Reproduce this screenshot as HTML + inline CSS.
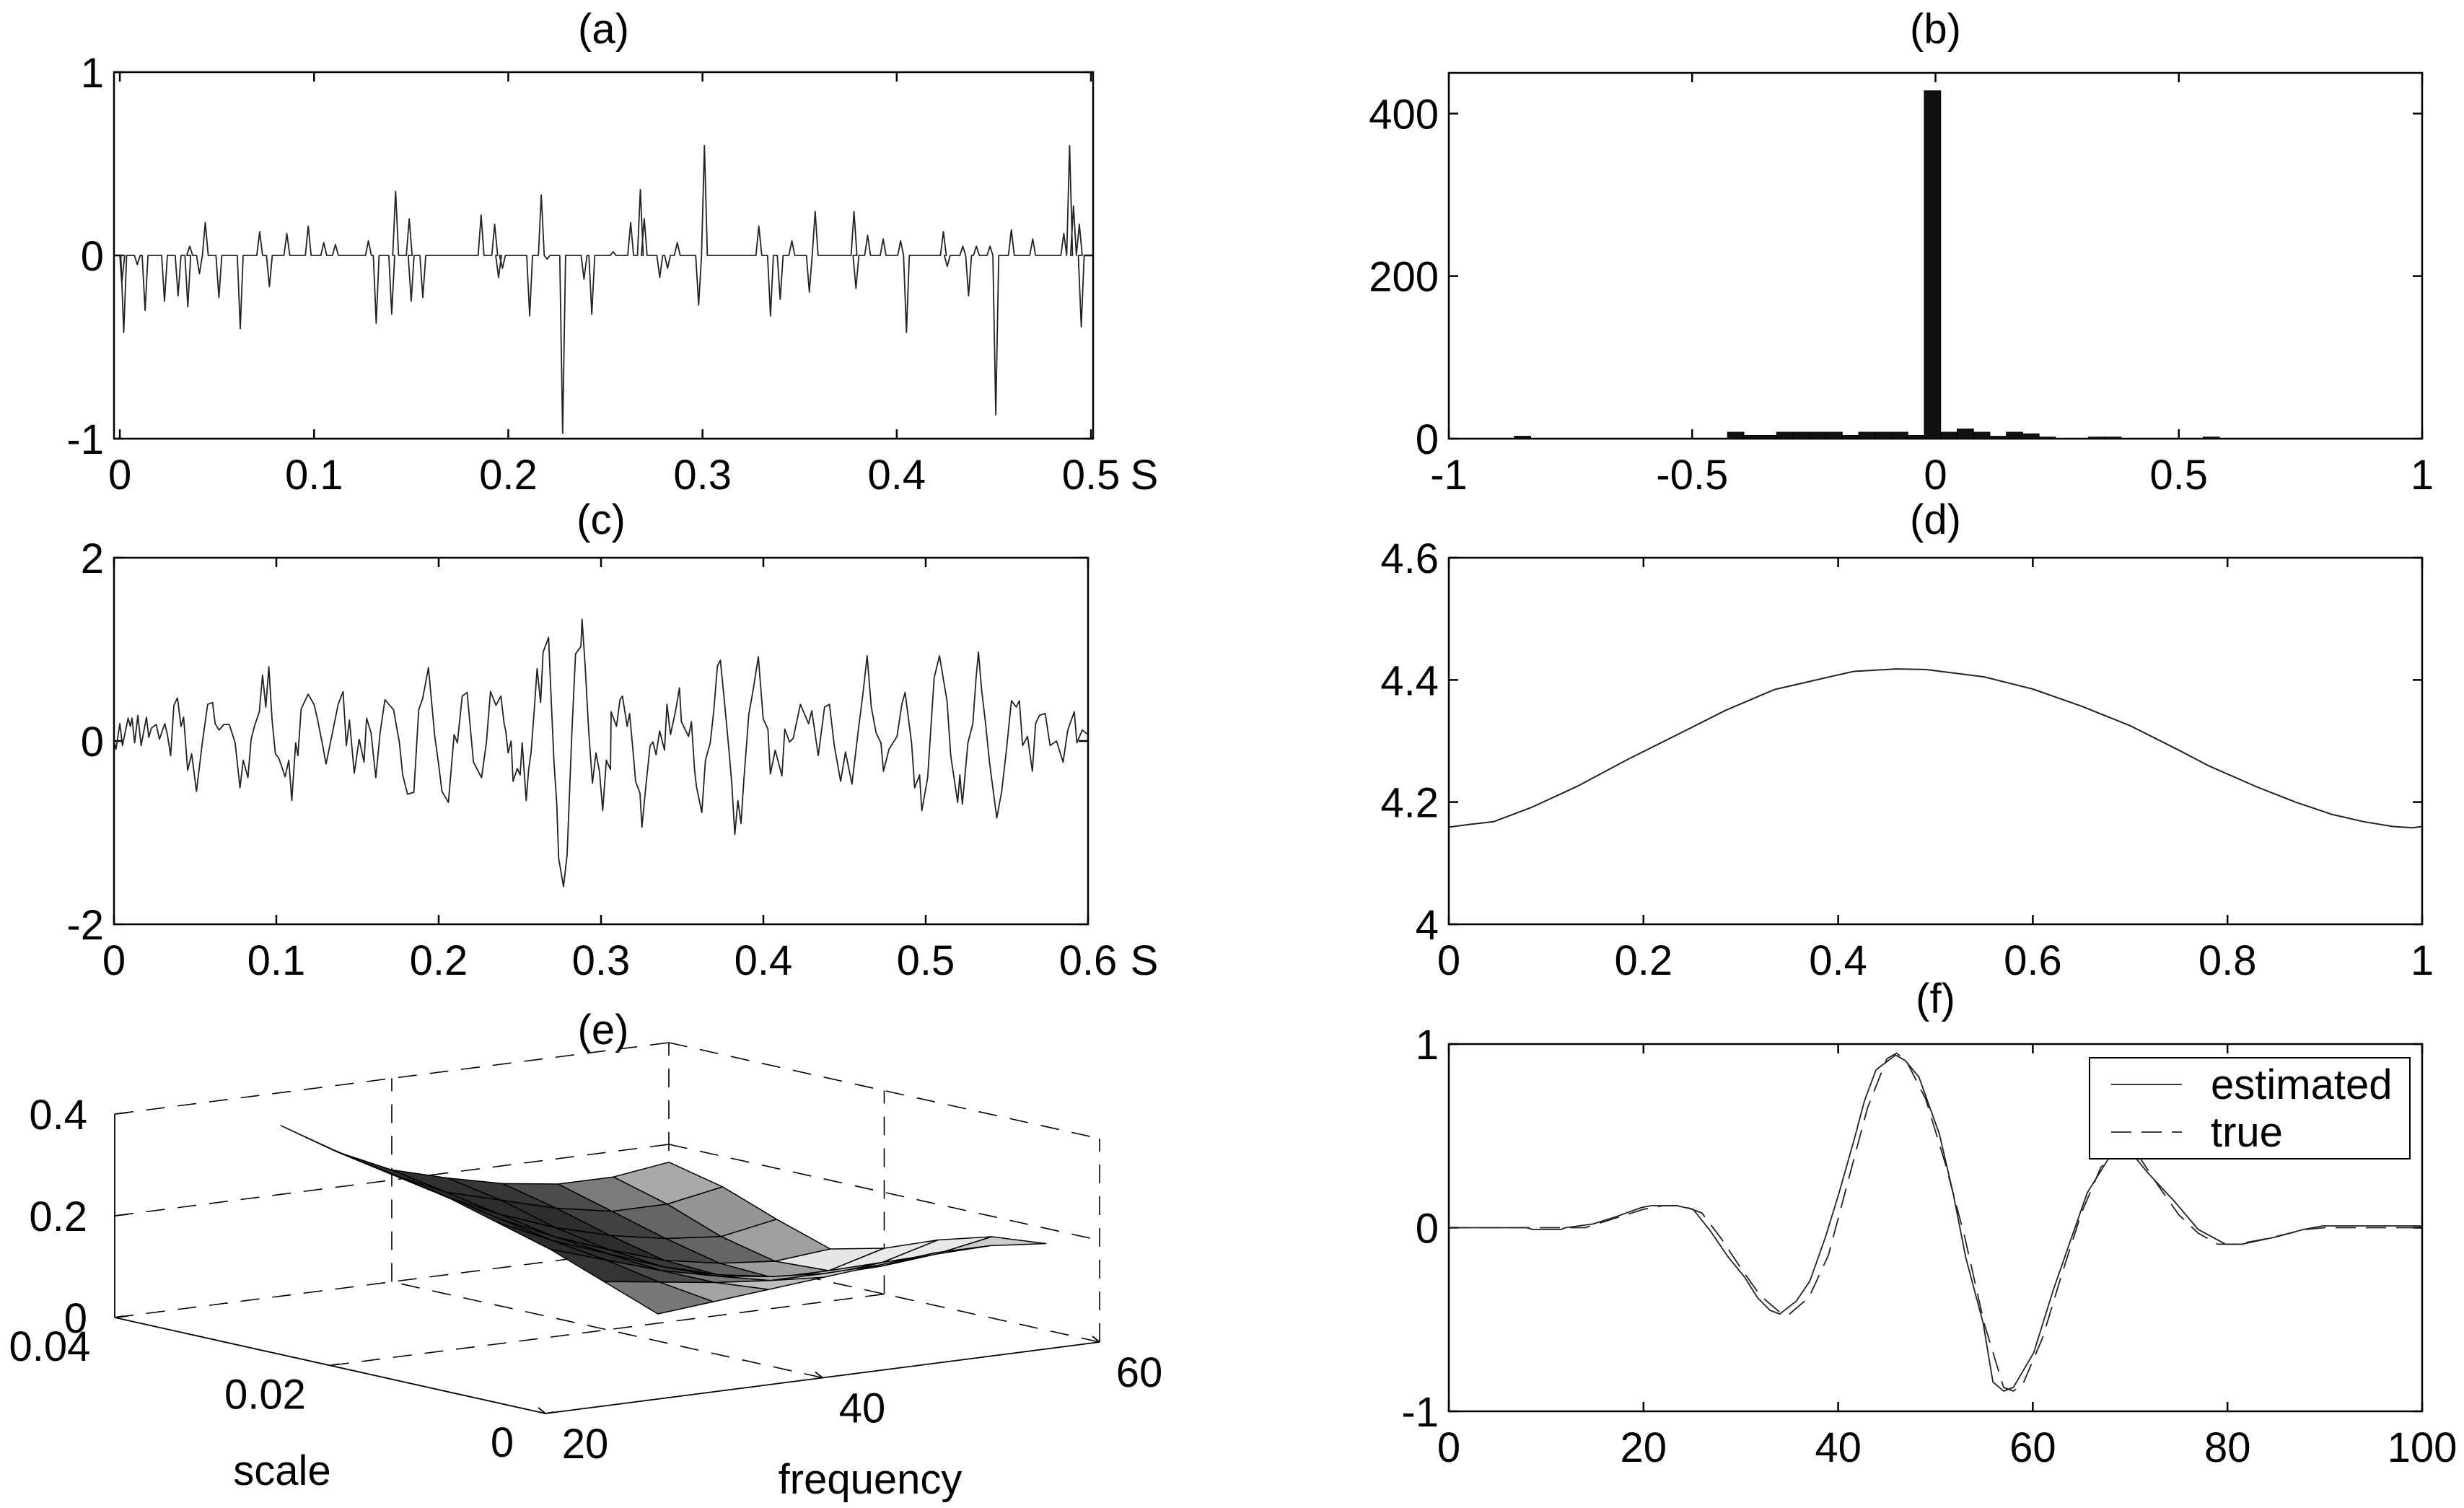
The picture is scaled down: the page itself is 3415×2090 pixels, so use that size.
<!DOCTYPE html>
<html><head><meta charset="utf-8"><style>
html,body{margin:0;padding:0;background:#fff}
svg{display:block;font-family:"Liberation Sans",Arial,sans-serif}
</style></head><body>
<svg id="fig" xmlns="http://www.w3.org/2000/svg" width="3415" height="2090" viewBox="0 0 3415 2090">
<rect x="0" y="0" width="3415" height="2090" fill="#fff"/>
</svg>
<script>
// ---------- data (a) ----------
const aTimes=[0.001,0.002,0.009,0.013,0.023,0.030,0.035,0.036,0.041,0.044,0.051,0.062,0.072,0.077,0.086,0.097,0.105,0.111,0.128,0.132,0.140,0.142,0.149,0.150,0.156,0.186,0.193,0.195,0.197,0.211,0.217,0.220,0.228,0.239,0.243,0.254,0.263,0.268,0.270,0.278,0.282,0.287,0.298,0.301,0.329,0.335,0.340,0.346,0.355,0.358,0.378,0.379,0.385,0.393,0.402,0.405,0.424,0.426,0.434,0.437,0.441,0.448,0.451,0.459,0.470,0.486,0.489,0.491,0.494,0.495];
const aValues=[-0.15,-0.42,-0.05,-0.3,-0.25,-0.22,-0.28,0.05,-0.1,0.18,-0.23,-0.4,0.13,-0.17,0.12,0.16,0.07,0.06,0.08,-0.37,-0.32,0.35,0.2,-0.25,-0.23,0.22,0.17,-0.12,-0.07,-0.33,0.33,-0.02,-0.97,-0.13,-0.32,0.02,0.18,0.36,0.2,-0.12,-0.07,0.07,-0.27,0.6,0.16,-0.33,-0.24,0.08,-0.2,0.24,0.24,-0.18,0.11,0.09,0.08,-0.42,0.13,-0.06,0.05,-0.22,0.05,0.05,-0.87,0.14,0.09,0.12,0.6,0.27,0.17,-0.39];
const aXTicks=[0,0.1,0.2,0.3,0.4,0.5];
const aXLabels=["0","0.1","0.2","0.3","0.4","0.5"];
const aYTicks=[-1,0,1];
const aYLabels=["-1","0","1"];
// ---------- data (b) ----------
const bCenters=[-0.8486,-0.4105,-0.3768,-0.3432,-0.3095,-0.2758,-0.2421,-0.2084,-0.1747,-0.141,-0.1073,-0.0736,-0.0399,-0.0062,0.0276,0.0613,0.095,0.1287,0.1624,0.1961,0.2298,0.3309,0.3646,0.5668];
const bCounts=[3,8,4,4,8,8,8,8,4,8,8,8,4,428,8,12,8,3,8,6,2,2,2,2];
const bBinWidth=0.0337;
const bXTicks=[-1,-0.5,0,0.5,1];
const bXLabels=["-1","-0.5","0","0.5","1"];
const bYTicks=[0,200,400];
const bYLabels=["0","200","400"];
// ---------- data (c) ----------
const cTimes=[0,.0012,.0036,.0052,.0087,.0101,.0111,.0127,.0147,.0167,.0200,.0214,.0230,.0260,.0280,.0313,.0329,.0349,.0369,.0391,.0413,.0429,.0454,.0478,.0508,.0544,.0577,.0607,.0623,.0647,.0677,.0710,.0746,.0776,.0796,.0825,.0845,.0865,.0895,.0915,.0935,.0954,.0974,.0994,.1016,.1054,.1077,.1095,.1119,.1133,.1153,.1196,.1232,.1252,.1282,.1306,.1341,.1381,.1411,.1431,.1450,.1480,.1510,.1540,.1556,.1583,.1613,.1639,.1669,.1722,.1758,.1778,.1808,.1847,.1877,.1901,.1937,.1976,.2000,.2020,.2060,.2095,.2115,.2145,.2175,.2214,.2264,.2294,.2319,.2353,.2383,.2403,
.2413,.2428,.2446,.2458,.2484,.2502,.2514,.2539,.2554,.2569,.2591,.2606,.2628,.2643,.2677,.2695,.2710,.2727,.2739,.2769,.2791,.2821,.2843,.2876,.2883,.2902,.2924,.2947,.2969,.2991,.3010,.3033,.3058,.3062,.3095,.3117,.3132,.3161,.3176,.3199,.3213,.3240,.3252,.3273,.3302,.3320,.3339,.3361,.3391,.3406,.3428,.3458,.3483,.3495,.3539,.3557,.3576,.3588,.3621,.3643,.3673,.3695,.3717,.3735,.3761,.3788,.3806,.3824,.3843,.3862,.3880,.3910,.3939,.3969,.3999,.4028,.4043,.4073,.4114,.4132,.4161,.4184,
.4228,.4278,.4298,.4338,.4377,.4407,.4437,.4476,.4506,.4546,.4585,.4615,.4639,.4665,.4694,.4724,.4740,.4774,.4823,.4853,.4873,.4913,.4932,.4962,.4976,.5012,.5052,.5085,.5111,.5131,.5154,.5197,.5210,.5226,.5260,.5290,.5310,.5325,.5345,.5369,.5393,.5438,.5468,.5498,.5528,.5558,.5577,.5597,.5627,.5657,.5677,.5701,.5736,.5766,.5806,.5846,.5875,.5915,.5931,.5964,.6];
const cValues=[0,-.09,.19,-.05,.25,.16,.25,-.02,.28,-.05,.26,.04,.14,.18,.02,.19,.07,-.16,.39,.47,.16,.26,-.32,-.14,-.55,-.02,.40,.42,.19,.12,.18,.18,-.02,-.51,-.21,-.40,.02,.16,.32,.72,.37,.81,.23,-.14,-.19,-.39,-.21,-.65,-.02,-.16,.35,.51,.40,.25,-.02,-.25,.05,.40,.54,-.05,.23,-.35,.02,-.23,.25,.09,-.40,.09,.45,.34,-.02,-.37,-.58,-.56,.34,.46,.80,.05,-.26,-.55,-.67,.07,-.02,.49,.53,-.23,-.40,-.02,.54,.39,.49,.19,
.11,-.13,0,-.44,-.30,-.37,-.02,-.65,-.31,-.13,.40,.79,.42,.97,1.13,.37,-.23,-.68,-1.28,-1.59,-1.24,.11,.95,1.03,1.33,.82,.11,-.46,-.13,-.34,-.76,-.21,-.31,.32,.16,.45,.49,.16,.30,-.15,-.44,-.57,-.94,-.55,-.05,-.01,-.15,.11,-.10,.40,.07,.32,.58,.21,.05,.21,-.31,-.50,-.78,-.21,-.02,.34,.82,.88,.42,-.10,-.47,-1.02,-.65,-.90,-.42,.29,.58,.92,.24,.13,-.36,-.10,-.38,.13,-.01,.03,
.40,.19,.33,-.16,.37,.40,-.05,-.44,-.12,-.47,.12,.54,.93,.37,.09,-.02,-.33,-.09,.05,.40,.53,-.02,-.51,-.37,-.76,-.40,.69,.93,.65,.44,-.16,-.67,-.37,-.69,-.02,.19,.69,.97,.55,.19,-.23,-.84,-.55,-.09,.44,.37,.44,-.05,.05,-.33,.19,.28,.30,-.05,0,-.23,.12,.32,-.02,.12,.07];
const cXTicks=[0,0.1,0.2,0.3,0.4,0.5,0.6];
const cXLabels=["0","0.1","0.2","0.3","0.4","0.5","0.6"];
const cYTicks=[-2,0,2];
const cYLabels=["-2","0","2"];
// ---------- data (d) ----------
const dX=[0,0.019,0.046,0.086,0.132,0.185,0.238,0.284,0.334,0.383,0.416,0.46,0.49,0.55,0.6,0.65,0.7,0.75,0.78,0.83,0.87,0.907,0.94,0.97,0.99,1.0];
const dY=[4.159,4.163,4.168,4.192,4.226,4.271,4.313,4.35,4.384,4.402,4.414,4.418,4.417,4.405,4.385,4.357,4.325,4.285,4.26,4.225,4.2,4.18,4.168,4.16,4.158,4.16];
const dXTicks=[0,0.2,0.4,0.6,0.8,1];
const dXLabels=["0","0.2","0.4","0.6","0.8","1"];
const dYTicks=[4,4.2,4.4,4.6];
const dYLabels=["4","4.2","4.4","4.6"];
// ---------- data (e) ----------
const eScale=[0.04,0.035,0.03,0.025,0.02,0.015,0.01,0.005];
const eFreq=[32,36,40,44,48,52,56,60];
const eZ=[
[.335,.27,.22,.19,.165,.15,.15,.165],
[.31,.25,.20,.17,.14,.12,.12,.14],
[.29,.23,.18,.14,.11,.09,.08,.10],
[.27,.21,.16,.12,.085,.065,.055,.065],
[.24,.19,.15,.11,.08,.06,.06,.09],
[.21,.175,.14,.115,.10,.09,.10,.13],
[.17,.155,.14,.13,.13,.13,.14,.16],
[.13,.14,.15,.16,.17,.18,.18,.17]];
const eZTicks=[0,0.2,0.4];
const eZLabels=["0","0.2","0.4"];
const eSTicks=[0.04,0.02,0];
const eSLabels=["0.04","0.02","0"];
const eFTicks=[20,40,60];
const eFLabels=["20","40","60"];
// ---------- data (f) ----------
const fX=[0,8,8.6,11.5,12,14.8,17.2,19.8,20.8,23.4,25.1,26.9,28.7,30.4,31.7,33,34,35.7,37.1,38.7,40.1,41.7,42.7,43.9,45.9,46.9,48.3,50.4,51.8,53.1,54.9,55.9,57,58,60.1,62.1,64.2,65.6,67.7,69.1,70.1,71.8,74.6,77,79.8,81.5,85,87.8,89.8,100];
const fEst=[0,0,-0.01,-0.01,0,0.02,0.06,0.11,0.12,0.12,0.10,-0.02,-0.16,-0.27,-0.38,-0.45,-0.47,-0.40,-0.29,-0.05,0.19,0.49,0.69,0.86,0.94,0.91,0.82,0.51,0.19,-0.16,-0.52,-0.84,-0.89,-0.87,-0.68,-0.34,-0.02,0.19,0.37,0.43,0.41,0.30,0.14,-0.01,-0.09,-0.09,-0.05,-0.01,0.01,0.01];
const fTrueX=[0,14,17,20,22,24,26,28,30,32,34,35,37,39,41,43,45,46,47,49,51,53,55,57,58,59,61,63,65,67,69,71,73,75,77,79,81,84,88,90,100];
const fTrue=[0,0,0.05,0.10,0.12,0.12,0.08,-0.06,-0.22,-0.37,-0.46,-0.47,-0.38,-0.15,0.25,0.65,0.92,0.95,0.91,0.70,0.35,-0.05,-0.52,-0.87,-0.89,-0.85,-0.6,-0.25,0.08,0.33,0.43,0.38,0.22,0.07,-0.03,-0.09,-0.09,-0.06,-0.01,0,0];
const fXTicks=[0,20,40,60,80,100];
const fXLabels=["0","20","40","60","80","100"];
const fYTicks=[-1,0,1];
const fYLabels=["-1","0","1"];

// ---------- helpers ----------
const NS="http://www.w3.org/2000/svg";
const svg=document.getElementById('fig');
const FS=58;
function mk(tag,attrs,parent){const e=document.createElementNS(NS,tag);for(const k in attrs)e.setAttribute(k,attrs[k]);(parent||svg).appendChild(e);return e;}
function txt(parent,x,y,s,anchor){const t=mk('text',{x:x,y:y,'text-anchor':anchor,'font-size':FS,fill:'#000'},parent);t.textContent=s;return t;}
function lin(d0,d1,r0,r1){return v=>r0+(v-d0)/(d1-d0)*(r1-r0);}

function axes(name,box,xd,yd,xt,xl,yt,yl,title){
  const g=mk('g',{});
  
  
  const sx=lin(xd[0],xd[1],box.l,box.r), sy=lin(yd[0],yd[1],box.b,box.t);
  const fr=mk('rect',{x:box.l,y:box.t,width:box.r-box.l,height:box.b-box.t,fill:'none',stroke:'#000','stroke-width':2.5},g);
  
  
  xt.forEach((v,i)=>{
    const x=sx(v);
    const tk=mk('path',{d:`M${x},${box.b}V${box.b-13}M${x},${box.t}V${box.t+13}`,stroke:'#000','stroke-width':2.5,fill:'none'},g);
    
    
    const lb=txt(g,x,box.b+70,xl[i],'middle');
    
    
  });
  yt.forEach((v,i)=>{
    const y=sy(v);
    const tk=mk('path',{d:`M${box.l},${y}H${box.l+13}M${box.r},${y}H${box.r-13}`,stroke:'#000','stroke-width':2.5,fill:'none'},g);
    
    
    const lb=txt(g,box.l-14,y+21,yl[i],'end');
    
    
  });
  const tt=txt(g,(box.l+box.r)/2,title.y,title.s,'middle');
  
  
  return {g,sx,sy};
}
function polyline(g,xs,ys,sx,sy,extra){
  const pts=xs.map((x,i)=>sx(x).toFixed(1)+','+sy(ys[i]).toFixed(1)).join(' ');
  return mk('polyline',Object.assign({points:pts,fill:'none',stroke:'#222','stroke-width':2,'stroke-linejoin':'round'},extra||{}),g);
}

// ---------- panel (a) ----------
(function(){
  const box={l:158,r:1515,t:100,b:608};
  const A=axes('panel-a',box,[-0.003,0.5011],[-1,1],aXTicks,aXLabels,aYTicks,aYLabels,{y:60,s:'(a)'});
  const xs=[0],ys=[0];
  aTimes.forEach((t,i)=>{xs.push(Math.max(0,t-0.0015),t,t+0.0015);ys.push(0,aValues[i],0);});
  xs.push(0.5);ys.push(0);
  const p=polyline(A.g,xs,ys,A.sx,A.sy,{'stroke-width':1.8});
  
  
  const u=txt(A.g,1586,box.b+70,'S','middle');
  
  
})();

// ---------- panel (b) ----------
(function(){
  const box={l:2008,r:3357,t:101,b:608};
  const A=axes('panel-b',box,[-1,1],[0,450],bXTicks,bXLabels,bYTicks,bYLabels,{y:60,s:'(b)'});
  bCenters.forEach((c,i)=>{
    const x0=A.sx(c-bBinWidth/2),x1=A.sx(c+bBinWidth/2),y=A.sy(bCounts[i]);
    const r=mk('rect',{x:x0,y:y,width:x1-x0,height:box.b-y,fill:'#111',stroke:'#000','stroke-width':1},A.g);
    
    
  });
})();

// ---------- panel (c) ----------
(function(){
  const box={l:158,r:1508,t:773,b:1281};
  const A=axes('panel-c',box,[0,0.6],[-2,2],cXTicks,cXLabels,cYTicks,cYLabels,{y:740,s:'(c)'});
  const p=polyline(A.g,cTimes,cValues,A.sx,A.sy,{'stroke-width':1.8});
  
  
  const u=txt(A.g,1586,box.b+70,'S','middle');
  
  
})();

// ---------- panel (d) ----------
(function(){
  const box={l:2008,r:3357,t:773,b:1281};
  const A=axes('panel-d',box,[0,1],[4,4.6],dXTicks,dXLabels,dYTicks,dYLabels,{y:740,s:'(d)'});
  const p=polyline(A.g,dX,dY,A.sx,A.sy);
  
  
})();

// ---------- panel (f) ----------
(function(){
  const box={l:2008,r:3357,t:1447,b:1956};
  const A=axes('panel-f',box,[0,100],[-1,1],fXTicks,fXLabels,fYTicks,fYLabels,{y:1404,s:'(f)'});
  const p1=polyline(A.g,fTrueX,fTrue,A.sx,A.sy,{'stroke-dasharray':'28,14','stroke-width':1.8});
  
  
  const p2=polyline(A.g,fX,fEst,A.sx,A.sy,{'stroke-width':1.8});
  
  
  const lg=mk('g',{},A.g);
  
  
  const lr=mk('rect',{x:2896,y:1466,width:444,height:140,fill:'#fff',stroke:'#000','stroke-width':2},lg);
  
  
  const l1=mk('line',{x1:2926,y1:1503,x2:3024,y2:1503,stroke:'#222','stroke-width':1.8},lg);
  
  
  const t1=txt(lg,3064,1523,'estimated','start');
  
  
  const l2=mk('line',{x1:2926,y1:1569,x2:3024,y2:1569,stroke:'#222','stroke-width':1.8,'stroke-dasharray':'28,14'},lg);
  
  
  const t2=txt(lg,3064,1589,'true','start');
  
  
})();

// ---------- panel (e) 3D ----------
(function(){
  const g=mk('g',{});
  
  
  function P(s,f,z){return [159+(s-0.04)*(-14925)+(f-20)*19.2, 1826+(s-0.04)*(-3325)+(f-20)*(-2.475)-z*705];}
  function seg(a,b,dash,name){
    const l=mk('line',{x1:a[0],y1:a[1],x2:b[0],y2:b[1],stroke:'#000','stroke-width':dash?1.6:1.8},g);
    if(dash)l.setAttribute('stroke-dasharray','26,18');
    
    
  }
  seg(P(0.04,20,0),P(0.04,60,0),1,'floor-grid-line');
  seg(P(0.02,20,0),P(0.02,60,0),1,'floor-grid-line');
  seg(P(0,40,0),P(0.04,40,0),1,'floor-grid-line');
  seg(P(0,60,0),P(0.04,60,0),1,'floor-grid-line');
  seg(P(0.04,20,0.2),P(0.04,60,0.2),1,'wall-grid-line');
  seg(P(0.04,20,0.4),P(0.04,60,0.4),1,'wall-grid-line');
  seg(P(0.04,40,0),P(0.04,40,0.4),1,'wall-grid-line');
  seg(P(0.04,60,0),P(0.04,60,0.4),1,'wall-grid-line');
  seg(P(0.04,60,0.2),P(0,60,0.2),1,'wall-grid-line');
  seg(P(0.04,60,0.4),P(0,60,0.4),1,'wall-grid-line');
  seg(P(0.02,60,0),P(0.02,60,0.4),1,'wall-grid-line');
  seg(P(0,60,0),P(0,60,0.4),1,'wall-grid-line');
  seg(P(0.04,20,0),P(0.04,20,0.4),0,'z-axis');
  seg(P(0.04,20,0),P(0,20,0),0,'scale-axis');
  seg(P(0,20,0),P(0,60,0),0,'frequency-axis');
  const faces=[];
  for(let i=0;i<eScale.length-1;i++)for(let j=0;j<eFreq.length-1;j++){
    const c=[[i,j],[i,j+1],[i+1,j+1],[i+1,j]];
    const q=c.map(([a,b])=>[eScale[a]/0.04,eFreq[b]/40,eZ[a][b]/0.4]);
    const u=[q[2][0]-q[0][0],q[2][1]-q[0][1],q[2][2]-q[0][2]];
    const v=[q[3][0]-q[1][0],q[3][1]-q[1][1],q[3][2]-q[1][2]];
    let n=[u[1]*v[2]-u[2]*v[1],u[2]*v[0]-u[0]*v[2],u[0]*v[1]-u[1]*v[0]];
    const nl=Math.hypot(n[0],n[1],n[2])||1;n=n.map(x=>x/nl);if(n[2]<0)n=n.map(x=>-x);
    const L=[0.3,-0.6,0.6];const Ll=Math.hypot(...L);
    const d=Math.max(0,(n[0]*L[0]+n[1]*L[1]+n[2]*L[2])/Ll);
    const gv=Math.round(45+195*d);
    const depth=(eScale[i]+eScale[i+1])/0.08+(eFreq[j]+eFreq[j+1])/80;
    faces.push({c,gv,depth});
  }
  faces.sort((a,b)=>b.depth-a.depth);
  faces.forEach(fc=>{
    const pts=fc.c.map(([a,b])=>P(eScale[a],eFreq[b],eZ[a][b]).map(x=>x.toFixed(1)).join(',')).join(' ');
    const pg=mk('polygon',{points:pts,fill:`rgb(${fc.gv},${fc.gv},${fc.gv})`,stroke:'#000','stroke-width':1.5,'stroke-linejoin':'round'},g);
    
    
  });
  eZTicks.forEach((z,i)=>{
    const p=P(0.04,20,z);
    seg(p,[p[0]+18,p[1]-2],0,'z-tick');
    const t=txt(g,p[0]-38,p[1]+21,eZLabels[i],'end');
    
    
  });
  eSTicks.forEach((s,i)=>{
    const p=P(s,20,0);
    seg(p,[p[0]+12,p[1]-2],0,'scale-tick');
    const t=txt(g,p[0]-90+ (i==2?30:0),p[1]+60,eSLabels[i],'middle');
    
    
  });
  eFTicks.forEach((f,i)=>{
    const p=P(0,f,0);
    seg(p,[p[0]-10,p[1]-8],0,'frequency-tick');
    const t=txt(g,p[0]+55,p[1]+62,eFLabels[i],'middle');
    
    
  });
  const xl=txt(g,391,2058,'scale','middle');
  
  
  const fl=txt(g,1206,2070,'frequency','middle');
  
  
  const tt=txt(g,836,1447,'(e)','middle');
  
  
})();
</script>
</body></html>
